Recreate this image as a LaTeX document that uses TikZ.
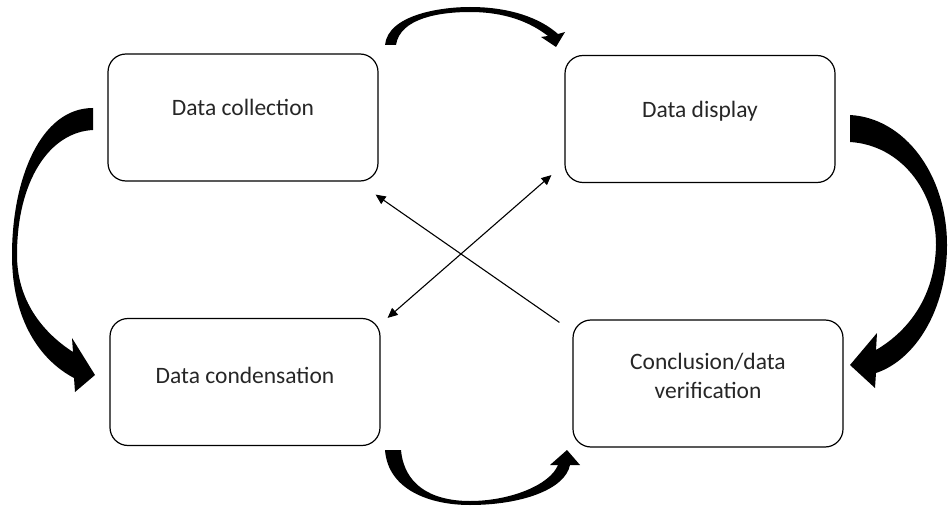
\documentclass[tikz,border=0pt]{standalone}
\usepackage{fontspec}
\setmainfont{Carlito}
\usetikzlibrary{arrows.meta}

\begin{document}
\begin{tikzpicture}[x=1pt,y=-1pt,
		box/.style={draw,line width=1.2pt,rounded corners=18pt,minimum width=270pt,minimum height=127pt},
		lbl/.style={font=\fontsize{23.5}{29}\selectfont,align=center,text=black!85},
		cross/.style={line width=1.1pt,-{Triangle[length=10pt,width=9pt]}}]
		\useasboundingbox (0,0) rectangle (948,508);
		\node[box] (col) at (243,117.5) {};
		\node[box] (dis) at (700,119) {};
		\node[box] (cond) at (245,382) {};
		\node[box] (conc) at (708,383.5) {};
		\node[lbl] (col-t) at ([yshift=10pt]col.center) {Data collection};
		\node[lbl] (dis-t) at ([yshift=8pt]dis.center) {Data display};
		\node[lbl] (cond-t) at ([yshift=7pt]cond.center) {Data condensation};
		\node[lbl] (conc-t) at ([yshift=8pt]conc.center) {Conclusion/data\\verification};
		% crossing arrows
		\draw[cross] ([shift={(-13,3)}]conc.north west) -- ([shift={(-3,13)}]col.south east);
		\draw[cross,{Triangle[length=10pt,width=9pt]}-{Triangle[length=10pt,width=9pt]}] ([shift={(7,0)}]cond.north east) -- ([shift={(-13,-8)}]dis.south west);
		% curved block arrows
		\fill (385,45) .. controls (388,15) and (440,7) .. (470,7) .. controls (510,7) and (540,18) .. (558,34)
			-- (565,32) -- (556,47) -- (541,37) -- (548,36)
			.. controls (530,22) and (505,12) .. (470,12) .. controls (440,12) and (400,18) .. (396,45) -- cycle;
		\fill (850,115) .. controls (905,118) and (947,175) .. (947,245) .. controls (947,310) and (915,360) .. (876,373)
			-- (875,388) -- (850,365) -- (877,333) -- (876,350)
			.. controls (910,330) and (935,295) .. (936,245) .. controls (936,190) and (900,145) .. (850,142) -- cycle;
		\fill (401,450) .. controls (404,484) and (430,501) .. (470,501) .. controls (510,501) and (550,485) .. (558,465)
			-- (550,465) -- (567,450) -- (580,465) -- (570,465)
			.. controls (565,490) and (520,505) .. (470,505) .. controls (430,505) and (388,490) .. (385,450) -- cycle;
		\fill (93,108) .. controls (40,108) and (12,180) .. (12,255) .. controls (12,320) and (40,360) .. (74,378)
			-- (75,392) -- (95,375) -- (72,338) -- (73,352)
			.. controls (42,332) and (17,300) .. (17,255) .. controls (17,180) and (50,132) .. (93,130) -- cycle;
	\end{tikzpicture}
\end{document}
